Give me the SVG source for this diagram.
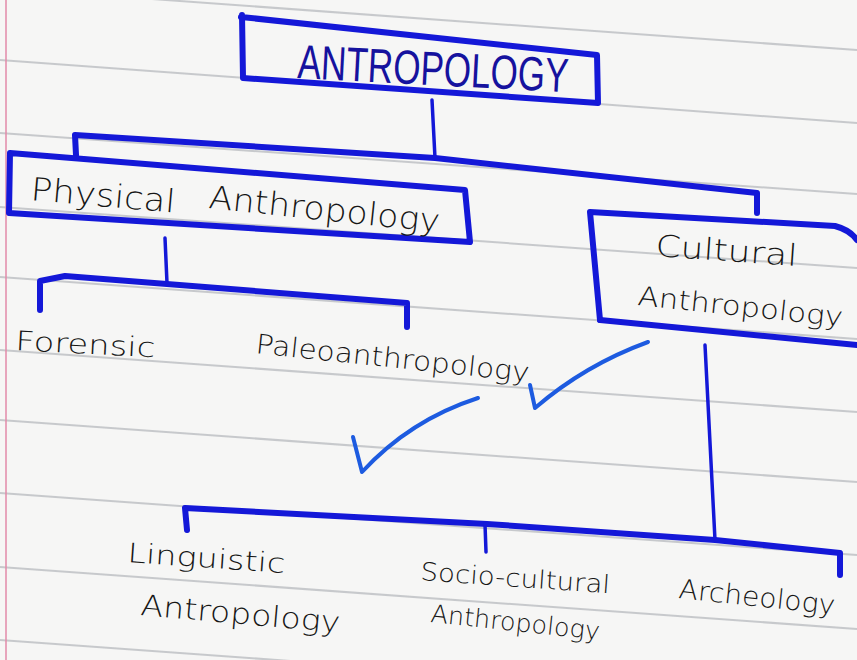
<svg xmlns="http://www.w3.org/2000/svg" width="857" height="660" viewBox="0 0 857 660">
<style>
.rule{stroke:#a9acb0;stroke-width:2;opacity:0.6;fill:none}
.blue{stroke:#1418d8;stroke-width:6;fill:none;stroke-linecap:round;stroke-linejoin:round}
.thin{stroke:#1418d8;stroke-width:3.5;fill:none;stroke-linecap:round}
.tick{stroke:#1d5be0;stroke-width:4;fill:none;stroke-linecap:round;stroke-linejoin:round}
.hand{font-family:"DejaVu Sans","Liberation Sans",sans-serif;font-weight:300;fill:#161616}
.title{font-family:"Liberation Sans","DejaVu Sans",sans-serif;fill:#16129e}
</style>
<rect width="857" height="660" fill="#f6f6f5"/>
<g id="paper">
<line class="rule" x1="0" y1="-12" x2="857" y2="50"/>
<line class="rule" x1="0" y1="60" x2="857" y2="123"/>
<line class="rule" x1="0" y1="133" x2="857" y2="194"/>
<line class="rule" x1="0" y1="207" x2="857" y2="268"/>
<line class="rule" x1="0" y1="277" x2="857" y2="339"/>
<line class="rule" x1="0" y1="350" x2="857" y2="412"/>
<line class="rule" x1="0" y1="420" x2="857" y2="482"/>
<line class="rule" x1="0" y1="493" x2="857" y2="555"/>
<line class="rule" x1="0" y1="567" x2="857" y2="629"/>
<line class="rule" x1="0" y1="640" x2="857" y2="702"/>
<line x1="6" y1="0" x2="6" y2="660" stroke="#e28aa8" stroke-width="1.5"/>
</g>
<g id="connectors">
<path class="thin" d="M432,100 L435,158"/>
<path class="blue" d="M76,155 L75,135 L435,158 L757,193 L757,213"/>
<path class="thin" d="M165,238 L167,283"/>
<path class="blue" d="M40,310 L40,281 L65,276 L407,303 L407,327"/>
<path class="thin" d="M705,345 L715,540"/>
<path class="blue" d="M187,530 L185,508 L487,524 L715,540 L840,553 L840,575"/>
<path class="thin" d="M485,524 L486,552"/>
</g>
<g id="node-antropology">
<path class="blue" d="M242,15 L243,78 L598,103 L597,55 L241,17"/>
<text class="title" x="297" y="78" font-size="48" textLength="271" lengthAdjust="spacingAndGlyphs" transform="rotate(3 297 78)">ANTROPOLOGY</text>
</g>
<g id="node-physical">
<path class="blue" d="M10,153 L9,213 L470,242 L465,190 L10,153"/>
<text class="hand" x="30" y="200" font-size="32" textLength="145" lengthAdjust="spacingAndGlyphs" transform="rotate(5 30 200)">Physical</text>
<text class="hand" x="208" y="208" font-size="32" textLength="232" lengthAdjust="spacingAndGlyphs" transform="rotate(6 208 208)">Anthropology</text>
</g>
<g id="node-cultural">
<path class="blue" d="M600,320 L590,212 L835,226 Q850,230 857,240"/>
<path class="blue" d="M600,320 L857,345"/>
<text class="hand" x="655" y="256" font-size="30" textLength="142" lengthAdjust="spacingAndGlyphs" transform="rotate(4 655 256)">Cultural</text>
<text class="hand" x="637" y="305" font-size="27" textLength="206" lengthAdjust="spacingAndGlyphs" transform="rotate(6 637 305)">Anthropology</text>
</g>
<g id="node-forensic">
<text class="hand" x="15" y="350" font-size="27" textLength="140" lengthAdjust="spacingAndGlyphs" transform="rotate(3 15 350)">Forensic</text>
</g>
<g id="node-paleo">
<text class="hand" x="255" y="353" font-size="27" textLength="275" lengthAdjust="spacingAndGlyphs" transform="rotate(6 255 353)">Paleoanthropology</text>
</g>
<g id="checks">
<path class="tick" d="M353,437 L362,472 Q410,420 478,398"/>
<path class="tick" d="M530,385 L535,408 Q585,365 648,342"/>
</g>
<g id="node-linguistic">
<text class="hand" x="127" y="562" font-size="27" textLength="158" lengthAdjust="spacingAndGlyphs" transform="rotate(4 127 562)">Linguistic</text>
<text class="hand" x="140" y="615" font-size="29" textLength="200" lengthAdjust="spacingAndGlyphs" transform="rotate(5 140 615)">Antropology</text>
</g>
<g id="node-socio">
<text class="hand" x="420" y="580" font-size="25" textLength="190" lengthAdjust="spacingAndGlyphs" transform="rotate(4 420 580)">Socio-cultural</text>
<text class="hand" x="430" y="622" font-size="25" textLength="170" lengthAdjust="spacingAndGlyphs" transform="rotate(6 430 622)">Anthropology</text>
</g>
<g id="node-archeology">
<text class="hand" x="678" y="598" font-size="27" textLength="157" lengthAdjust="spacingAndGlyphs" transform="rotate(6 678 598)">Archeology</text>
</g>
</svg>
